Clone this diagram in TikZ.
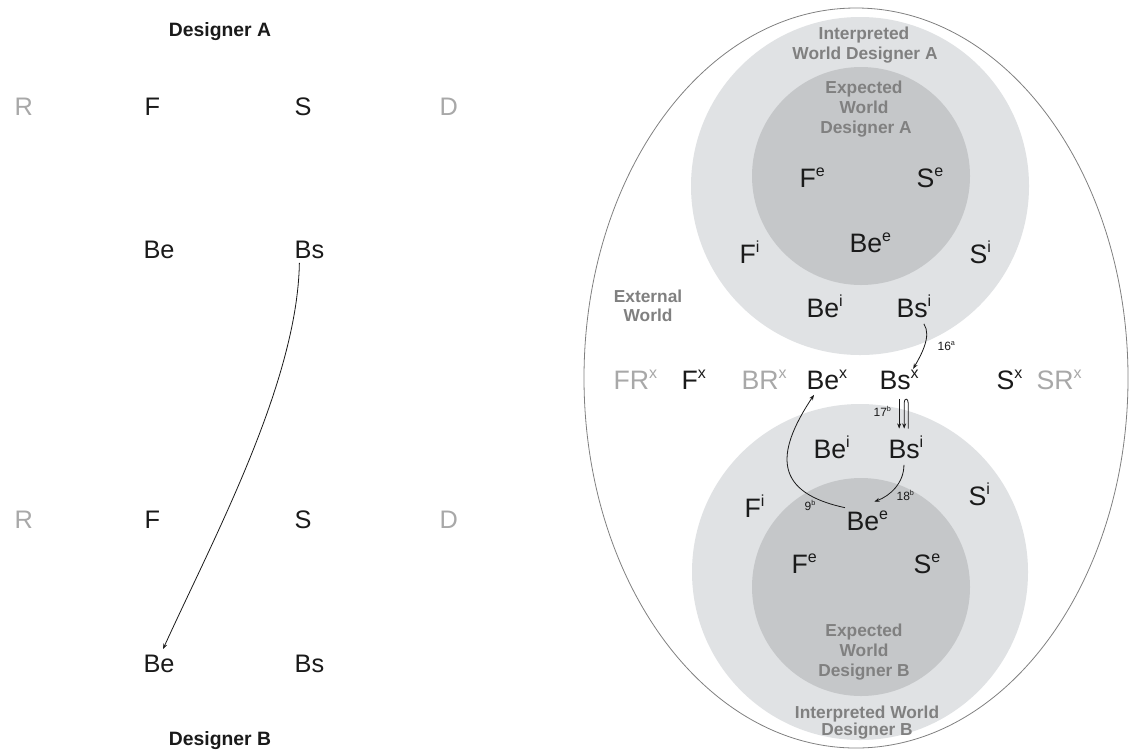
\documentclass[tikz,border=0pt]{standalone}
\usepackage{fontspec}
\setmainfont{Liberation Sans}
\usetikzlibrary{calc,arrows.meta}
\definecolor{lightc}{HTML}{E0E2E4}
\definecolor{darkc}{HTML}{C5C7C9}
\definecolor{graytxt}{HTML}{808080}
\definecolor{faint}{HTML}{A8A8A8}
\definecolor{ink}{HTML}{1A1A1A}
\newcommand\su[1]{\raisebox{0.38em}{\scalebox{0.6}{#1}}}
\begin{document}
\begin{tikzpicture}[x=0.75pt,y=-0.75pt,
  lbl/.style={anchor=base west, inner sep=1pt, font=\fontsize{19}{22}\selectfont, text=ink},
  rlbl/.style={anchor=base west, inner sep=1pt, font=\fontsize{20}{24}\selectfont, text=ink},
  title/.style={anchor=base, inner sep=1pt, font=\fontsize{14.5}{17}\selectfont\bfseries, text=ink},
  world/.style={anchor=base, inner sep=1pt, font=\fontsize{13}{15}\selectfont\bfseries, text=graytxt},
  small/.style={anchor=base west, inner sep=1pt, font=\fontsize{9}{10}\selectfont, text=ink},
  conn/.style={draw=ink, line width=0.6pt, -{Stealth[length=4pt,width=3pt]}}
]
\useasboundingbox (0,0) rectangle (1130,751);

% ---------- left panel ----------
\node[title] (desA) at (220,36) {Designer A};
\node[lbl,text=faint] (rA) at (13,115) {R};
\node[lbl] (fA) at (143,115) {F};
\node[lbl] (sA) at (293,115) {S};
\node[lbl,text=faint] (dA) at (438,115) {D};
\node[lbl] (beA) at (142,258) {Be};
\node[lbl] (bsA) at (293,258) {Bs};
\node[lbl,text=faint] (rB) at (13,528) {R};
\node[lbl] (fB) at (143,528) {F};
\node[lbl] (sB) at (293,528) {S};
\node[lbl,text=faint] (dB) at (438,528) {D};
\node[lbl] (beB) at (142,672) {Be};
\node[lbl] (bsB) at (293,672) {Bs};
\node[title] (desB) at (220,745) {Designer B};

\draw[conn] ($(bsA.south)+(-10,3)$) .. controls +(-2,120) and +(50,-110) .. ($(beB.north)+(4,-4)$);

% ---------- right panel: worlds ----------
\draw[draw=graytxt, line width=0.6pt, fill=white] (856,378) ellipse [x radius=204pt, y radius=277.5pt];
\fill[lightc] (860,186) circle [radius=126.75pt];
\fill[darkc] (861,176) circle [radius=81.75pt];
\fill[lightc] (860,572) circle [radius=126pt];
\fill[darkc] (861,587) circle [radius=81.75pt];

\node[world] (iwA1) at (864,39) {Interpreted};
\node[world] (iwA2) at (865,59) {World Designer A};
\node[world] (ewA1) at (864,93) {Expected};
\node[world] (ewA2) at (864,113) {World};
\node[world] (ewA3) at (866,133) {Designer A};
\node[world] (ext1) at (648,302) {External};
\node[world] (ext2) at (648,321) {World};
\node[world] (ewB1) at (864,636) {Expected};
\node[world] (ewB2) at (864,656) {World};
\node[world] (ewB3) at (864,676) {Designer B};
\node[world] (iwB1) at (867,718) {Interpreted World};
\node[world] (iwB2) at (867,735) {Designer B};

% top (designer A)
\node[rlbl] (feA) at (798,187) {F\su{e}};
\node[rlbl] (seA) at (915,187) {S\su{e}};
\node[rlbl] (beeA) at (848,252) {Be\su{e}};
\node[rlbl] (fiA) at (738,263) {F\su{i}};
\node[rlbl] (siA) at (968,263) {S\su{i}};
\node[rlbl] (beiA) at (805,317) {Be\su{i}};
\node[rlbl] (bsiA) at (895,317) {Bs\su{i}};

% external row
\node[rlbl,text=faint] (frx) at (612,389) {FR\su{x}};
\node[rlbl] (fx) at (680,389) {F\su{x}};
\node[rlbl,text=faint] (brx) at (740,389) {BR\su{x}};
\node[rlbl] (bex) at (805,389) {Be\su{x}};
\node[rlbl] (bsx) at (878,389) {Bs\su{x}};
\node[rlbl] (sx) at (995,389) {S\su{x}};
\node[rlbl,text=faint] (srx) at (1035,389) {SR\su{x}};

% bottom (designer B)
\node[rlbl] (beiB) at (812,458) {Be\su{i}};
\node[rlbl] (bsiB) at (887,458) {Bs\su{i}};
\node[rlbl] (fiB) at (743,517) {F\su{i}};
\node[rlbl] (siB) at (967,505) {S\su{i}};
\node[rlbl] (beeB) at (845,530) {Be\su{e}};
\node[rlbl] (feB) at (790,573) {F\su{e}};
\node[rlbl] (seB) at (912,573) {S\su{e}};

% ---------- connectors ----------
% 16a
\draw[conn] ($(bsiA.south east)+(-9,5)$) .. controls +(8,12) and +(8,-14) .. ($(bsx.north)+(14,0)$);
\node[small] (l16) at (936,350) {16\su{a}};

% 17b
\coordinate (t0) at ($(bsiB.north)+(0,-6)$);
\coordinate (t1) at ($(bsx.south)+(0,8)$);
\coordinate (t2) at ($(bsx.south)+(5,8)$);
\coordinate (t3) at ($(bsx.south)+(9,8)$);
\draw[conn] (t1) -- (t1 |- t0);
\draw[conn] (t3 |- t0) -- ($(t3)+(0,4)$) .. controls +(0,-5) and +(0,-5) .. ($(t2)+(0,4)$) -- (t2 |- t0);
\node[small] (l17) at (872,416) {17\su{b}};

% 18b
\draw[conn] ($(bsiB.south)+(-2,5)$) .. controls +(0,18) and +(16,-6) .. ($(beeB.north)+(7,-8)$);
\node[small] (l18) at (895,500) {18\su{b}};

% 9b
\draw[conn] ($(beeB.north west)+(0,-2)$) .. controls +(-70,-15) and +(-40,60) .. ($(bex.south west)+(9,4)$);
\node[small] (l9) at (803,510) {9\su{b}};
\end{tikzpicture}
\end{document}
